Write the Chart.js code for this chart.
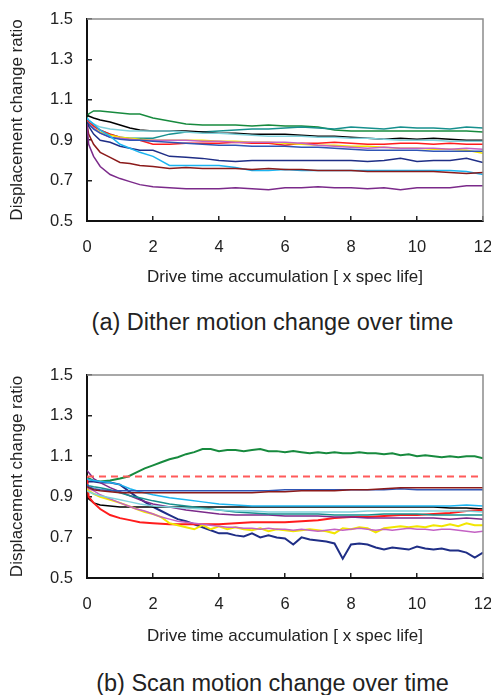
<!DOCTYPE html>
<html>
<head>
<meta charset="utf-8">
<script src="https://cdn.jsdelivr.net/npm/chart.js@4.4.1/dist/chart.umd.min.js"></script>
<style>
  body { margin: 0; background: #fff; width: 491px; height: 695px; position: relative; overflow: hidden; }
  .box { position: absolute; left: 0; width: 491px; }
  .caption { position: absolute; left: 0; width: 545px; text-align: center; font-family: "Liberation Sans", Arial, sans-serif; font-size: 23.5px; line-height: 26px; color: #222; }
</style>
</head>
<body>
<div class="box" style="top:0;height:290px"><canvas id="ditherChart"></canvas></div>
<div class="caption" style="top:309px">(a) Dither motion change over time</div>
<div class="box" style="top:350px;height:299px"><canvas id="scanChart"></canvas></div>
<div class="caption" style="top:670px">(b) Scan motion change over time</div>
<script>
// axis ticks
const X_TICKS = [0, 2, 4, 6, 8, 10, 12];
const Y_TICKS = [0.5, 0.7, 0.9, 1.1, 1.3, 1.5];

// (a) dither motion - sample times
const timeA = [0, 0.05, 0.2, 0.4, 0.7, 1, 1.3, 1.6, 2, 2.5, 3, 3.5, 4, 4.5, 5, 5.5, 6, 6.5, 7, 7.5, 8, 8.5, 9, 9.5, 10, 10.5, 11, 11.5, 12];
const aGreen   = [1.01, 1.03, 1.045, 1.045, 1.04, 1.035, 1.03, 1.03, 1.01, 0.995, 0.98, 0.975, 0.975, 0.975, 0.97, 0.975, 0.97, 0.97, 0.965, 0.95, 0.945, 0.945, 0.945, 0.945, 0.945, 0.945, 0.945, 0.945, 0.94];
const aTeal    = [1.0, 0.99, 0.97, 0.95, 0.93, 0.915, 0.91, 0.91, 0.91, 0.93, 0.94, 0.94, 0.945, 0.95, 0.955, 0.955, 0.96, 0.965, 0.96, 0.955, 0.965, 0.96, 0.955, 0.965, 0.96, 0.96, 0.955, 0.965, 0.96];
const aBlack   = [1.02, 1.02, 1.01, 1.0, 0.99, 0.975, 0.96, 0.95, 0.945, 0.945, 0.945, 0.94, 0.935, 0.935, 0.93, 0.93, 0.93, 0.925, 0.92, 0.92, 0.915, 0.91, 0.905, 0.91, 0.905, 0.91, 0.905, 0.9, 0.9];
const aCyan    = [1.01, 1.0, 0.98, 0.965, 0.955, 0.95, 0.945, 0.945, 0.945, 0.945, 0.94, 0.935, 0.935, 0.93, 0.925, 0.92, 0.92, 0.92, 0.915, 0.915, 0.91, 0.91, 0.905, 0.9, 0.9, 0.9, 0.895, 0.895, 0.895];
const aRed     = [1.0, 0.99, 0.97, 0.95, 0.93, 0.915, 0.905, 0.9, 0.88, 0.88, 0.885, 0.885, 0.885, 0.89, 0.885, 0.885, 0.875, 0.885, 0.885, 0.89, 0.885, 0.88, 0.88, 0.885, 0.885, 0.88, 0.885, 0.88, 0.88];
const aYellow  = [0.99, 0.98, 0.96, 0.94, 0.925, 0.915, 0.91, 0.905, 0.9, 0.9, 0.9, 0.9, 0.895, 0.895, 0.89, 0.89, 0.885, 0.88, 0.875, 0.875, 0.87, 0.87, 0.865, 0.86, 0.86, 0.855, 0.855, 0.85, 0.835];
const aMagenta = [0.99, 0.98, 0.96, 0.935, 0.915, 0.91, 0.905, 0.9, 0.9, 0.9, 0.9, 0.895, 0.895, 0.89, 0.89, 0.89, 0.89, 0.885, 0.875, 0.87, 0.865, 0.86, 0.865, 0.86, 0.86, 0.86, 0.855, 0.86, 0.855];
const aBlue    = [0.99, 0.98, 0.955, 0.935, 0.915, 0.905, 0.9, 0.9, 0.895, 0.89, 0.885, 0.88, 0.875, 0.875, 0.87, 0.87, 0.87, 0.865, 0.865, 0.86, 0.855, 0.85, 0.85, 0.85, 0.85, 0.845, 0.845, 0.845, 0.845];
const aNavy    = [0.99, 0.97, 0.93, 0.9, 0.89, 0.87, 0.86, 0.85, 0.85, 0.82, 0.815, 0.81, 0.8, 0.795, 0.8, 0.8, 0.8, 0.8, 0.8, 0.8, 0.8, 0.795, 0.8, 0.81, 0.795, 0.8, 0.8, 0.81, 0.79];
const aSky     = [1.01, 1.0, 0.98, 0.95, 0.92, 0.88, 0.86, 0.84, 0.82, 0.775, 0.775, 0.775, 0.775, 0.765, 0.75, 0.75, 0.755, 0.75, 0.75, 0.75, 0.75, 0.75, 0.75, 0.75, 0.75, 0.75, 0.75, 0.745, 0.73];
const aDarkRed = [0.98, 0.93, 0.88, 0.84, 0.815, 0.79, 0.785, 0.775, 0.77, 0.76, 0.765, 0.76, 0.76, 0.76, 0.755, 0.76, 0.755, 0.755, 0.75, 0.75, 0.75, 0.745, 0.745, 0.745, 0.745, 0.745, 0.74, 0.735, 0.74];
const aPurple  = [0.98, 0.88, 0.82, 0.77, 0.73, 0.71, 0.695, 0.68, 0.67, 0.665, 0.66, 0.66, 0.66, 0.665, 0.66, 0.655, 0.665, 0.665, 0.67, 0.665, 0.665, 0.66, 0.665, 0.655, 0.665, 0.665, 0.665, 0.675, 0.675];

// (b) scan motion - smooth series share timeB, noisy ones use timeBFine
const timeB = [0, 0.05, 0.2, 0.4, 0.7, 1, 1.3, 1.6, 2, 2.5, 3, 3.5, 4, 4.5, 5, 5.5, 6, 6.5, 7, 7.5, 8, 8.5, 9, 9.5, 10, 10.5, 11, 11.5, 12];
const timeBFine = [0, 0.05, 0.2, 0.4, 0.7, 1, 1.25, 1.5, 1.75, 2, 2.25, 2.5, 2.75, 3, 3.25, 3.5, 3.75, 4, 4.25, 4.5, 4.75, 5, 5.25, 5.5, 5.75, 6, 6.25, 6.5, 6.75, 7, 7.25, 7.5, 7.75, 8, 8.25, 8.5, 8.75, 9, 9.25, 9.5, 9.75, 10, 10.25, 10.5, 10.75, 11, 11.25, 11.5, 11.75, 12];
const timeRef = [0, 12];
const bReference = [1.0, 1.0];
const bBlue    = [0.96, 0.95, 0.94, 0.935, 0.93, 0.93, 0.93, 0.93, 0.93, 0.93, 0.93, 0.93, 0.93, 0.93, 0.93, 0.93, 0.935, 0.935, 0.935, 0.935, 0.935, 0.935, 0.935, 0.94, 0.935, 0.935, 0.935, 0.935, 0.935];
const bDarkRed = [0.95, 0.945, 0.935, 0.93, 0.925, 0.92, 0.92, 0.92, 0.92, 0.92, 0.92, 0.92, 0.92, 0.92, 0.92, 0.925, 0.925, 0.93, 0.93, 0.93, 0.935, 0.935, 0.94, 0.945, 0.945, 0.945, 0.945, 0.945, 0.945];
const bSky     = [0.99, 0.985, 0.98, 0.975, 0.97, 0.96, 0.94, 0.925, 0.91, 0.895, 0.885, 0.875, 0.865, 0.86, 0.855, 0.855, 0.855, 0.855, 0.855, 0.855, 0.855, 0.855, 0.855, 0.855, 0.855, 0.855, 0.855, 0.86, 0.855];
const bBlack   = [0.93, 0.89, 0.87, 0.86, 0.855, 0.85, 0.85, 0.85, 0.85, 0.85, 0.85, 0.85, 0.85, 0.85, 0.85, 0.85, 0.85, 0.85, 0.85, 0.85, 0.85, 0.85, 0.85, 0.85, 0.85, 0.85, 0.845, 0.845, 0.84];
const bTeal    = [0.96, 0.955, 0.95, 0.945, 0.935, 0.92, 0.905, 0.895, 0.88, 0.865, 0.855, 0.845, 0.835, 0.825, 0.82, 0.815, 0.815, 0.815, 0.815, 0.81, 0.81, 0.81, 0.815, 0.815, 0.815, 0.81, 0.81, 0.81, 0.81];
const bCyan    = [0.93, 0.925, 0.915, 0.905, 0.895, 0.885, 0.875, 0.865, 0.855, 0.85, 0.845, 0.84, 0.835, 0.83, 0.83, 0.825, 0.825, 0.825, 0.825, 0.825, 0.825, 0.83, 0.83, 0.83, 0.83, 0.83, 0.83, 0.83, 0.825];
const bPurple  = [1.03, 1.02, 0.99, 0.97, 0.945, 0.925, 0.905, 0.885, 0.865, 0.85, 0.835, 0.825, 0.815, 0.81, 0.81, 0.81, 0.805, 0.805, 0.805, 0.8, 0.8, 0.795, 0.795, 0.795, 0.795, 0.795, 0.79, 0.795, 0.79];
const bRed     = [1.0, 0.9, 0.87, 0.84, 0.81, 0.795, 0.785, 0.775, 0.77, 0.765, 0.765, 0.765, 0.765, 0.77, 0.775, 0.775, 0.775, 0.78, 0.785, 0.795, 0.8, 0.8, 0.805, 0.81, 0.81, 0.815, 0.82, 0.83, 0.835];
const bGreen   = [1.0, 0.99, 0.98, 0.975, 0.98, 0.99, 1.0, 1.02, 1.04, 1.055, 1.07, 1.085, 1.095, 1.11, 1.12, 1.135, 1.135, 1.125, 1.13, 1.13, 1.125, 1.13, 1.135, 1.125, 1.125, 1.12, 1.125, 1.12, 1.115, 1.12, 1.115, 1.12, 1.115, 1.115, 1.12, 1.115, 1.115, 1.11, 1.115, 1.105, 1.11, 1.1, 1.105, 1.1, 1.095, 1.1, 1.095, 1.1, 1.1, 1.09];
const bNavy    = [0.97, 0.975, 0.975, 0.97, 0.97, 0.96, 0.93, 0.9, 0.875, 0.85, 0.83, 0.81, 0.79, 0.78, 0.765, 0.75, 0.735, 0.72, 0.72, 0.71, 0.705, 0.72, 0.7, 0.71, 0.7, 0.695, 0.665, 0.7, 0.69, 0.685, 0.68, 0.67, 0.595, 0.665, 0.67, 0.665, 0.65, 0.64, 0.65, 0.645, 0.64, 0.655, 0.645, 0.64, 0.645, 0.635, 0.635, 0.625, 0.6, 0.625];
const bYellow  = [0.94, 0.93, 0.915, 0.9, 0.885, 0.87, 0.855, 0.84, 0.825, 0.815, 0.8, 0.77, 0.76, 0.75, 0.74, 0.76, 0.74, 0.755, 0.74, 0.75, 0.74, 0.735, 0.745, 0.73, 0.74, 0.735, 0.73, 0.735, 0.74, 0.735, 0.73, 0.72, 0.745, 0.74, 0.75, 0.745, 0.725, 0.745, 0.75, 0.755, 0.75, 0.755, 0.75, 0.76, 0.755, 0.765, 0.755, 0.77, 0.76, 0.76];
const bMagenta = [0.95, 0.94, 0.93, 0.91, 0.89, 0.87, 0.855, 0.84, 0.83, 0.815, 0.8, 0.79, 0.78, 0.775, 0.77, 0.765, 0.76, 0.755, 0.75, 0.75, 0.745, 0.745, 0.74, 0.745, 0.74, 0.74, 0.735, 0.74, 0.735, 0.73, 0.735, 0.74, 0.735, 0.74, 0.745, 0.74, 0.735, 0.74, 0.735, 0.74, 0.745, 0.74, 0.74, 0.735, 0.74, 0.74, 0.735, 0.73, 0.725, 0.73];

Chart.defaults.font.family = '"Liberation Sans", Arial, sans-serif';
Chart.defaults.color = '#222';

function line(xs, ys, color, extra) {
  return Object.assign({
    data: xs.map((x, i) => ({ x: x, y: ys[i] })),
    borderColor: color,
    borderWidth: 1.5,
    pointRadius: 0,
    fill: false,
    tension: 0
  }, extra || {});
}

// grey top/right edges of the plot box
const frame = {
  id: 'frame',
  afterDatasetsDraw(chart) {
    const { ctx, chartArea: a } = chart;
    ctx.save();
    ctx.strokeStyle = '#8c8c8c';
    ctx.lineWidth = 1.5;
    ctx.beginPath();
    ctx.moveTo(a.left, a.top);
    ctx.lineTo(a.right, a.top);
    ctx.lineTo(a.right, a.bottom);
    ctx.stroke();
    ctx.restore();
  }
};

function makeChart(id, datasets, padTop, xHeight) {
  return new Chart(document.getElementById(id), {
    type: 'line',
    data: { datasets: datasets },
    plugins: [frame],
    options: {
      responsive: true,
      maintainAspectRatio: false,
      animation: false,
      layout: { padding: { top: padTop, right: 8, left: 0, bottom: 0 } },
      plugins: { legend: { display: false }, tooltip: { enabled: false } },
      scales: {
        x: {
          type: 'linear',
          min: 0,
          max: 12,
          afterBuildTicks: (s) => { s.ticks = X_TICKS.map(v => ({ value: v })); },
          afterFit: (s) => { s.height = xHeight; s.paddingLeft = 0; s.paddingRight = 0; },
          ticks: { font: { size: 16.5 }, padding: 22, color: '#222' },
          grid: { drawOnChartArea: false, drawTicks: true, tickLength: -5, color: '#222', lineWidth: 1.5 },
          border: { color: '#111', width: 2 },
          title: { display: true, text: 'Drive time accumulation [ x spec life]', font: { size: 17 }, padding: { top: 0, bottom: 2 }, color: '#222' }
        },
        y: {
          min: 0.5,
          max: 1.5,
          afterBuildTicks: (s) => { s.ticks = Y_TICKS.map(v => ({ value: v })); },
          afterFit: (s) => { s.width = 87; s.paddingTop = 0; s.paddingBottom = 0; },
          ticks: { font: { size: 16.5 }, padding: 19, color: '#222', callback: (v) => v.toFixed(1) },
          grid: { drawOnChartArea: false, drawTicks: true, tickLength: -5, color: '#222', lineWidth: 1.5 },
          border: { color: '#111', width: 2 },
          title: { display: true, text: 'Displacement change ratio', font: { size: 17 }, padding: { top: 7, bottom: 0 }, color: '#222' }
        }
      }
    }
  });
}

makeChart('ditherChart', [
  line(timeA, aPurple, '#7b2a8a'),
  line(timeA, aDarkRed, '#8b1a1a'),
  line(timeA, aSky, '#1cb4f0'),
  line(timeA, aNavy, '#1f2e86'),
  line(timeA, aBlue, '#2f55b5'),
  line(timeA, aMagenta, '#c462c4'),
  line(timeA, aYellow, '#f2e600'),
  line(timeA, aRed, '#ff1c1c'),
  line(timeA, aCyan, '#80d2dc'),
  line(timeA, aBlack, '#000000'),
  line(timeA, aTeal, '#17908e'),
  line(timeA, aGreen, '#178a3e')
], 19, 69);

makeChart('scanChart', [
  line(timeRef, bReference, '#ff5a5a', { borderDash: [7, 5], borderWidth: 2 }),
  line(timeB, bDarkRed, '#8b1a1a'),
  line(timeB, bBlue, '#2f55b5'),
  line(timeB, bSky, '#1cb4f0'),
  line(timeB, bCyan, '#80d2dc'),
  line(timeB, bTeal, '#17908e'),
  line(timeB, bPurple, '#7b2a8a'),
  line(timeBFine, bMagenta, '#c462c4'),
  line(timeBFine, bYellow, '#f2e600', { borderWidth: 2 }),
  line(timeB, bRed, '#ff1c1c', { borderWidth: 2 }),
  line(timeB, bBlack, '#000000'),
  line(timeBFine, bNavy, '#1f2e86', { borderWidth: 2 }),
  line(timeBFine, bGreen, '#178a3e', { borderWidth: 2 })
], 25, 71);
</script>
</body>
</html>
